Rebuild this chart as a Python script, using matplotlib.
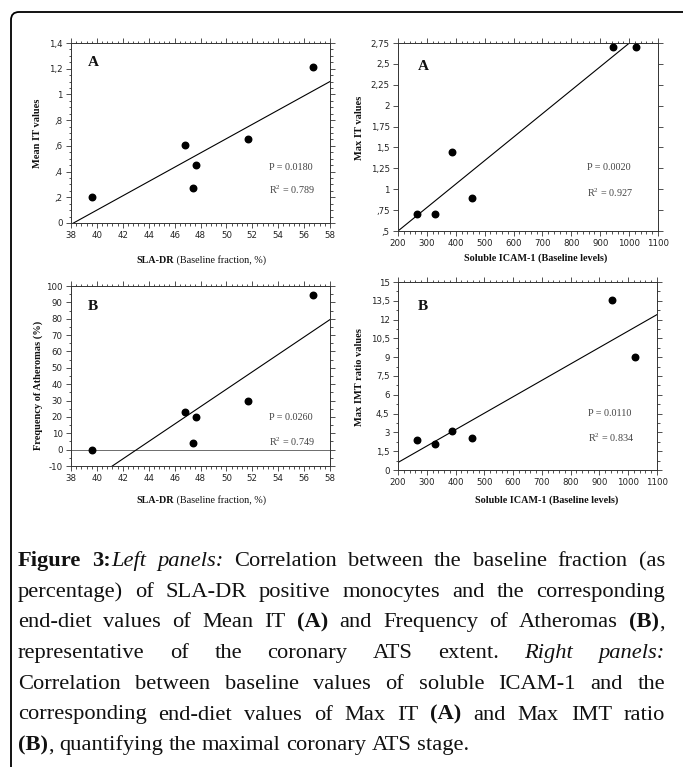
import matplotlib
matplotlib.use("Agg")
import matplotlib.pyplot as plt
from matplotlib.ticker import FixedLocator, FixedFormatter, AutoMinorLocator
from matplotlib.offsetbox import TextArea, HPacker, AnnotationBbox
from matplotlib.patches import FancyBboxPatch
from matplotlib.transforms import IdentityTransform

# ---------------- data ----------------
sla_dr = [39.6, 46.8, 47.45, 47.65, 51.65, 56.7]
mean_it = [0.20, 0.61, 0.27, 0.455, 0.65, 1.21]
freq_atheromas = [0.0, 23.0, 4.0, 20.0, 29.5, 94.5]

icam1 = [267, 327, 387, 456, 944, 1024]
max_it = [0.70, 0.70, 1.45, 0.90, 2.70, 2.70]
max_imt_ratio = [2.39, 2.07, 3.10, 2.52, 13.57, 9.03]

# regression lines (slope, intercept)
fit_mean_it = (0.05556, -2.122)
fit_freq = (5.324, -229.3)
fit_max_it = (0.002809, -0.0618)
fit_max_imt = (0.01311, -2.022)

stats_mean_it = ("P = 0.0180", "R$^2$ = 0.789")
stats_freq = ("P = 0.0260", "R$^2$ = 0.749")
stats_max_it = ("P = 0.0020", "R$^2$ = 0.927")
stats_max_imt = ("P = 0.0110", "R$^2$ = 0.834")

sla_ticks = [38, 40, 42, 44, 46, 48, 50, 52, 54, 56, 58]
sla_ticklabels = ["38", "40", "42", "44", "46", "48", "50", "52", "54", "56", "58"]
icam_ticks = [200, 300, 400, 500, 600, 700, 800, 900, 1000, 1100]
icam_ticklabels = ["200", "300", "400", "500", "600", "700", "800", "900", "1000", "1100"]

mean_it_ticks = [0, 0.2, 0.4, 0.6, 0.8, 1.0, 1.2, 1.4]
mean_it_ticklabels = ["0", ",2", ",4", ",6", ",8", "1", "1,2", "1,4"]
freq_ticks = [-10, 0, 10, 20, 30, 40, 50, 60, 70, 80, 90, 100]
freq_ticklabels = ["-10", "0", "10", "20", "30", "40", "50", "60", "70", "80", "90", "100"]
max_it_ticks = [0.5, 0.75, 1.0, 1.25, 1.5, 1.75, 2.0, 2.25, 2.5, 2.75]
max_it_ticklabels = [",5", ",75", "1", "1,25", "1,5", "1,75", "2", "2,25", "2,5", "2,75"]
max_imt_ticks = [0, 1.5, 3, 4.5, 6, 7.5, 9, 10.5, 12, 13.5, 15]
max_imt_ticklabels = ["0", "1,5", "3", "4,5", "6", "7,5", "9", "10,5", "12", "13,5", "15"]

# ---------------- figure ----------------
W, H = 683, 767
plt.rcParams["mathtext.fontset"] = "custom"
plt.rcParams["mathtext.rm"] = "Liberation Serif"
plt.rcParams["mathtext.it"] = "Liberation Serif:italic"
plt.rcParams["mathtext.bf"] = "Liberation Serif:bold"

fig = plt.figure(figsize=(W / 100, H / 100), dpi=100)
fig.patch.set_facecolor("white")

SERIF = "Liberation Serif"
TICKFONT = "DejaVu Sans"


def fx(x):
    return x / W


def fy(y):
    return 1 - y / H


def add_axes(left, top, right, bottom):
    return fig.add_axes([fx(left), fy(bottom), (right - left) / W, (bottom - top) / H])


def style_panel(ax, xt, xtl, yt, ytl, xlim, ylim, xminor, yminor):
    ax.set_xlim(*xlim)
    ax.set_ylim(*ylim)
    ax.xaxis.set_major_locator(FixedLocator(xt))
    ax.xaxis.set_major_formatter(FixedFormatter(xtl))
    ax.yaxis.set_major_locator(FixedLocator(yt))
    ax.yaxis.set_major_formatter(FixedFormatter(ytl))
    if xminor:
        ax.xaxis.set_minor_locator(AutoMinorLocator(xminor))
    if yminor:
        ax.yaxis.set_minor_locator(AutoMinorLocator(yminor))
    ax.tick_params(which="both", direction="out", top=True, right=True,
                   labeltop=False, labelright=False, width=0.6, color="#333333")
    ax.tick_params(which="major", length=3.5, pad=2.5, labelsize=6.2, labelcolor="#222222")
    ax.tick_params(which="minor", length=1.8)
    for lab in ax.get_xticklabels() + ax.get_yticklabels():
        lab.set_fontfamily(TICKFONT)
    for sp in ax.spines.values():
        sp.set_linewidth(0.7)
        sp.set_color("#333333")


def draw_panel(ax, x, y, fit, xlim):
    ax.scatter(x, y, s=22, color="black", zorder=3, clip_on=False)
    xs = list(xlim)
    ax.plot(xs, [fit[1] + fit[0] * v for v in xs], color="black", lw=0.8, zorder=2)


def xlabel(cx, cy, bold, rest):
    tb = TextArea(bold, textprops=dict(fontfamily=SERIF, fontweight="bold", fontsize=7.3, color="#111111"))
    tr = TextArea(rest, textprops=dict(fontfamily=SERIF, fontsize=7.3, color="#111111"))
    pk = HPacker(children=[tb, tr], align="baseline", pad=0, sep=0)
    ab = AnnotationBbox(pk, (fx(cx), fy(cy)), xycoords="figure fraction", frameon=False,
                        box_alignment=(0.5, 0.5), pad=0)
    fig.add_artist(ab)


def ylabel(cx, cy, text):
    fig.text(fx(cx), fy(cy), text, rotation=90, ha="center", va="center",
             fontfamily=SERIF, fontweight="bold", fontsize=7.5, color="#111111")


def letter(x, y, s):
    fig.text(fx(x), fy(y), s, ha="left", va="center", fontfamily=SERIF,
             fontweight="bold", fontsize=11, color="#111111")


def stats(x, y1, y2, st):
    fig.text(fx(x), fy(y1), st[0], ha="left", va="center", fontfamily=SERIF, fontsize=7.3, color="#444444")
    fig.text(fx(x), fy(y2), st[1], ha="left", va="center", fontfamily=SERIF, fontsize=7.3, color="#444444")


# Panel 1: Mean IT vs SLA-DR
ax1 = add_axes(71, 43, 330, 223)
style_panel(ax1, sla_ticks, sla_ticklabels, mean_it_ticks, mean_it_ticklabels, (38, 58), (0, 1.4), 5, 4)
draw_panel(ax1, sla_dr, mean_it, fit_mean_it, (38, 58))
letter(88, 63, "A")
stats(269, 167, 190, stats_mean_it)
xlabel(201, 260, "SLA-DR", " (Baseline fraction, %)")
ylabel(38, 133, "Mean IT values")

# Panel 2: Max IT vs ICAM-1
ax2 = add_axes(398, 43, 658, 231)
style_panel(ax2, icam_ticks, icam_ticklabels, max_it_ticks, max_it_ticklabels, (200, 1100), (0.5, 2.75), 5, None)
draw_panel(ax2, icam1, max_it, fit_max_it, (200, 1100))
letter(418, 67, "A")
stats(587, 167, 193, stats_max_it)
xlabel(536, 258, "Soluble ICAM-1 (Baseline levels)", "")
ylabel(359, 128, "Max IT values")

# Panel 3: Frequency of atheromas vs SLA-DR
ax3 = add_axes(71, 286, 330, 466)
style_panel(ax3, sla_ticks, sla_ticklabels, freq_ticks, freq_ticklabels, (38, 58), (-10, 100), 5, 2)
ax3.axhline(0, color="#555555", lw=0.6, zorder=1)
draw_panel(ax3, sla_dr, freq_atheromas, fit_freq, (38, 58))
letter(88, 306, "B")
stats(269, 417, 442, stats_freq)
xlabel(201, 500, "SLA-DR", " (Baseline fraction, %)")
ylabel(38, 385, "Frequency of Atheromas (%)")

# Panel 4: Max IMT ratio vs ICAM-1
ax4 = add_axes(398, 282, 657, 470)
style_panel(ax4, icam_ticks, icam_ticklabels, max_imt_ticks, max_imt_ticklabels, (200, 1100), (0, 15), 5, 2)
draw_panel(ax4, icam1, max_imt_ratio, fit_max_imt, (200, 1100))
letter(418, 306, "B")
stats(588, 414, 438, stats_max_imt)
xlabel(547, 500, "Soluble ICAM-1 (Baseline levels)", "")
ylabel(359, 377, "Max IMT ratio values")

# ---------------- frame ----------------
frame = FancyBboxPatch((11, -30), 720, H - 12 + 30, boxstyle="round,pad=0,rounding_size=8",
                       transform=IdentityTransform(), facecolor="none", edgecolor="black", lw=1.3)
fig.add_artist(frame)

# ---------------- caption (justified) ----------------
CAP_SIZE = 16.2
caption_lines = [
    [[("Figure", "b")], [("3:", "b"), ("Left", "i")], [("panels:", "i")], [("Correlation", "r")],
     [("between", "r")], [("the", "r")], [("baseline", "r")], [("fraction", "r")], [("(as", "r")]],
    [[(w, "r")] for w in "percentage) of SLA-DR positive monocytes and the corresponding".split()],
    [[("end-diet", "r")], [("values", "r")], [("of", "r")], [("Mean", "r")], [("IT", "r")], [("(A)", "b")],
     [("and", "r")], [("Frequency", "r")], [("of", "r")], [("Atheromas", "r")], [("(B)", "b"), (",", "r")]],
    [[("representative", "r")], [("of", "r")], [("the", "r")], [("coronary", "r")], [("ATS", "r")],
     [("extent.", "r")], [("Right", "i")], [("panels:", "i")]],
    [[(w, "r")] for w in "Correlation between baseline values of soluble ICAM-1 and the".split()],
    [[("corresponding", "r")], [("end-diet", "r")], [("values", "r")], [("of", "r")], [("Max", "r")],
     [("IT", "r")], [("(A)", "b")], [("and", "r")], [("Max", "r")], [("IMT", "r")], [("ratio", "r")]],
    [[("(B)", "b"), (",", "r")], [("quantifying", "r")], [("the", "r")], [("maximal", "r")],
     [("coronary", "r")], [("ATS", "r")], [("stage.", "r")]],
]

renderer = fig.canvas.get_renderer()


def props(style):
    d = dict(fontfamily=SERIF, fontsize=CAP_SIZE, color="#111111")
    if style == "b":
        d["fontweight"] = "bold"
    if style == "i":
        d["fontstyle"] = "italic"
    return d


def width_of(s, style):
    t = fig.text(0, 0, s, **props(style))
    w = t.get_window_extent(renderer).width
    t.remove()
    return w


space_w = width_of("a a", "r") - width_of("aa", "r")
LEFT, RIGHT = 18, 665
base0, step = 566, 30.7
for i, line in enumerate(caption_lines):
    widths = [[width_of(s, st) for s, st in word] for word in line]
    total = sum(sum(w) for w in widths)
    if i < len(caption_lines) - 1:
        gap = (RIGHT - LEFT - total) / (len(line) - 1)
    else:
        gap = space_w
    x = LEFT
    yb = base0 + i * step
    for word, ws in zip(line, widths):
        for (s, st), w in zip(word, ws):
            fig.text(fx(x), fy(yb), s, ha="left", va="baseline", **props(st))
            x += w
        x += gap

fig.savefig("out.png", dpi=100)
